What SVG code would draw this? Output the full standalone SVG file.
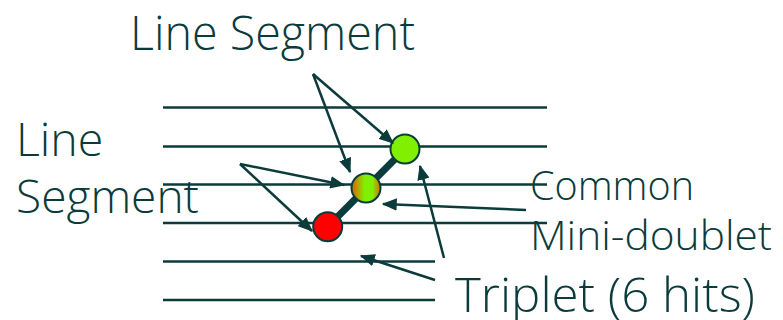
<svg xmlns="http://www.w3.org/2000/svg" width="783" height="320" viewBox="0 0 783 320">
<style>
.layer{stroke:#0b3b3b;stroke-width:2.5;fill:none}
.arr{stroke:#0b3b3b;stroke-width:2.5;fill:none;marker-end:url(#ah)}
.lbl{font-family:"Open Sans","Noto Sans",sans-serif;font-weight:300;fill:#0b3b3b}
.hit{stroke:#0b3b3b;stroke-width:2}
</style>
<defs>
<marker id="ah" markerWidth="6" markerHeight="5" refX="5.5" refY="2.5" orient="auto" markerUnits="strokeWidth">
<path d="M0,0 L6,2.5 L0,5 z" fill="#0b3b3b"/>
</marker>
<linearGradient id="mix" x1="0" y1="0" x2="1" y2="0">
<stop offset="0" stop-color="#e35a00"/>
<stop offset="0.45" stop-color="#80f000"/>
<stop offset="0.72" stop-color="#80f000"/>
<stop offset="1" stop-color="#d66a10"/>
</linearGradient>
</defs>
<g id="layers">
<line class="layer" x1="163" y1="107.5" x2="547" y2="107.5"/>
<line class="layer" x1="163" y1="146.5" x2="547" y2="146.5"/>
<line class="layer" x1="163" y1="184.5" x2="547" y2="184.5"/>
<line class="layer" x1="163" y1="223" x2="547" y2="223"/>
<line class="layer" x1="163" y1="261.5" x2="435" y2="261.5"/>
<line class="layer" x1="163" y1="300" x2="435" y2="300"/>
</g>
<g id="triplet-link">
<line x1="327.7" y1="226.7" x2="405" y2="149" stroke="#0b3b3b" stroke-width="7"/>
</g>
<g id="hit-red"><circle class="hit" cx="327.7" cy="226.7" r="14.5" fill="#ff0000"/></g>
<g id="hit-mid"><circle class="hit" cx="366" cy="188" r="14.5" fill="url(#mix)"/></g>
<g id="hit-green"><circle class="hit" cx="405" cy="149" r="14.5" fill="#80f000"/></g>
<g id="connectors">
<line class="arr" x1="313" y1="74" x2="393" y2="143"/>
<line class="arr" x1="313" y1="74" x2="350" y2="172"/>
<line class="arr" x1="240" y1="164" x2="344" y2="185"/>
<line class="arr" x1="240" y1="164" x2="312" y2="231"/>
<line class="arr" x1="526" y1="210" x2="383" y2="204"/>
<line class="arr" x1="444" y1="258" x2="420" y2="166"/>
<line class="arr" x1="435" y1="280" x2="361" y2="256"/>
</g>
<g id="label-top"><text class="lbl" x="130" y="50" font-size="47" textLength="285" lengthAdjust="spacingAndGlyphs">Line Segment</text></g>
<g id="label-left"><text class="lbl" x="16" y="156" font-size="46.5">Line</text><text class="lbl" x="16" y="213" font-size="46.5" textLength="183" lengthAdjust="spacingAndGlyphs">Segment</text></g>
<g id="label-md"><text class="lbl" x="530" y="200" font-size="41" textLength="164" lengthAdjust="spacingAndGlyphs">Common</text><text class="lbl" x="530" y="250" font-size="41" textLength="242" lengthAdjust="spacingAndGlyphs">Mini-doublet</text></g>
<g id="label-triplet"><text class="lbl" x="455" y="311.5" font-size="48" font-weight="400" textLength="300" lengthAdjust="spacingAndGlyphs">Triplet (6 hits)</text></g>
</svg>
